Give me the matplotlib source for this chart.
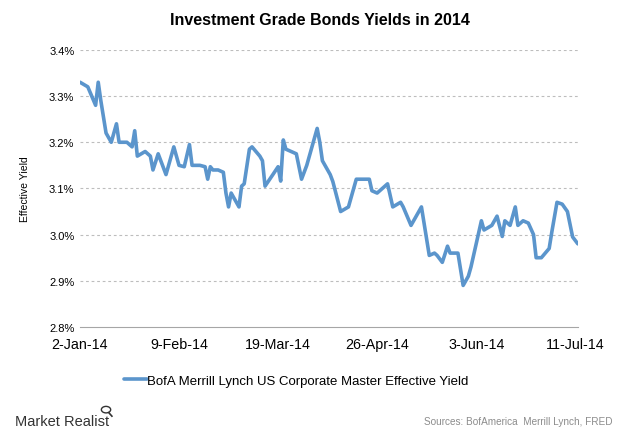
import matplotlib
matplotlib.use("Agg")
import matplotlib.pyplot as plt
import matplotlib.patches as mpatches
import matplotlib.lines as mlines
import pandas as pd

# effective yield (turning points)
dates = ["2014-01-02", "2014-01-05", "2014-01-08", "2014-01-09", "2014-01-10", "2014-01-12",
         "2014-01-14", "2014-01-16", "2014-01-17", "2014-01-20", "2014-01-22", "2014-01-23",
         "2014-01-24", "2014-01-27", "2014-01-29", "2014-01-30", "2014-02-01", "2014-02-04",
         "2014-02-07", "2014-02-09", "2014-02-11", "2014-02-13", "2014-02-14", "2014-02-17",
         "2014-02-19", "2014-02-20", "2014-02-21", "2014-02-22", "2014-02-24", "2014-02-26",
         "2014-02-27", "2014-02-28", "2014-03-01", "2014-03-03", "2014-03-04", "2014-03-05",
         "2014-03-06", "2014-03-08", "2014-03-09", "2014-03-12", "2014-03-13", "2014-03-14",
         "2014-03-17", "2014-03-19", "2014-03-20", "2014-03-21", "2014-03-22", "2014-03-26",
         "2014-03-28", "2014-03-30", "2014-04-01", "2014-04-03", "2014-04-04", "2014-04-05",
         "2014-04-08", "2014-04-09", "2014-04-12", "2014-04-15", "2014-04-16", "2014-04-18",
         "2014-04-23", "2014-04-24", "2014-04-26", "2014-04-30", "2014-05-02", "2014-05-05",
         "2014-05-06", "2014-05-09", "2014-05-13", "2014-05-16", "2014-05-18", "2014-05-19",
         "2014-05-21", "2014-05-23", "2014-05-24", "2014-05-27", "2014-05-29", "2014-05-31",
         "2014-06-01", "2014-06-05", "2014-06-06", "2014-06-09", "2014-06-11", "2014-06-13",
         "2014-06-14", "2014-06-16", "2014-06-18", "2014-06-19", "2014-06-21", "2014-06-23",
         "2014-06-25", "2014-06-26", "2014-06-28", "2014-07-01", "2014-07-02", "2014-07-04",
         "2014-07-06", "2014-07-08", "2014-07-10", "2014-07-12"]
yields = [3.33, 3.32, 3.28, 3.33, 3.29, 3.22,
          3.20, 3.24, 3.20, 3.20, 3.19, 3.225,
          3.17, 3.18, 3.17, 3.14, 3.175, 3.13,
          3.19, 3.15, 3.147, 3.195, 3.15, 3.15,
          3.147, 3.12, 3.147, 3.14, 3.14, 3.135,
          3.09, 3.06, 3.09, 3.07, 3.06, 3.105,
          3.11, 3.185, 3.19, 3.17, 3.16, 3.105,
          3.13, 3.147, 3.116, 3.205, 3.185, 3.175,
          3.12, 3.15, 3.19, 3.23, 3.20, 3.16,
          3.13, 3.115, 3.05, 3.06, 3.08, 3.12,
          3.12, 3.095, 3.09, 3.11, 3.06, 3.07,
          3.06, 3.02, 3.06, 2.955, 2.96, 2.955,
          2.94, 2.975, 2.96, 2.96, 2.89, 2.91,
          2.93, 3.03, 3.01, 3.02, 3.04, 2.996,
          3.03, 3.02, 3.06, 3.02, 3.03, 3.025,
          3.00, 2.95, 2.95, 2.97, 3.005, 3.07,
          3.066, 3.05, 2.995, 2.98]
tick_dates = ["2014-01-02", "2014-02-09", "2014-03-19", "2014-04-26", "2014-06-03", "2014-07-11"]
tick_labels = ["2-Jan-14", "9-Feb-14", "19-Mar-14", "26-Apr-14", "3-Jun-14", "11-Jul-14"]
y_ticks = [2.8, 2.9, 3.0, 3.1, 3.2, 3.3, 3.4]

plt.rcParams['font.family'] = ['Liberation Sans', 'DejaVu Sans']

fig = plt.figure(figsize=(6.2, 4.35), dpi=100)
ax = fig.add_axes([0.129, 0.246, 0.803, 0.637])

x = pd.to_datetime(dates)
line, = ax.plot(x, yields, color='#5b95cc', linewidth=2.6,
                solid_joinstyle='round', solid_capstyle='round',
                label='BofA Merrill Lynch US Corporate Master Effective Yield')

ax.set_ylim(2.8, 3.4)
ax.set_yticks(y_ticks)
ax.set_yticklabels(['%.1f%%' % v for v in y_ticks], fontsize=8)
ax.set_xlim(pd.Timestamp("2014-01-02"), pd.Timestamp("2014-07-12"))
ax.set_xticks(pd.to_datetime(tick_dates))
ax.set_xticklabels(tick_labels, fontsize=10.3)
ax.tick_params(length=0, pad=4)
ax.tick_params(axis='x', pad=7)

for v in y_ticks[1:]:
    ax.axhline(v, color='#bdbdbd', linewidth=0.8, linestyle=(0, (2.5, 2.5)), zorder=0)

for s in ['top', 'right', 'left']:
    ax.spines[s].set_visible(False)
ax.spines['bottom'].set_color('#a6a6a6')
ax.spines['bottom'].set_linewidth(0.8)

ax.set_ylabel('Effective Yield', fontsize=7.5, labelpad=14)

fig.text(0.516, 0.953, 'Investment Grade Bonds Yields in 2014', ha='center', va='center',
         fontsize=11.5, fontweight='bold')

fig.legend(handles=[line], loc='center', bbox_to_anchor=(0.478, 0.123), frameon=False,
           fontsize=9.5, handlelength=1.7, handletextpad=0.05)

# Market Realist logo text plus a small magnifier drawn as a shape
fig.text(0.024, 0.03, 'Market Realist', fontsize=10.5, color='#333333', va='center')
fig.patches.append(mpatches.Circle((0.171, 0.056), 0.0075, transform=fig.transFigure,
                                   fill=False, edgecolor='#333333', linewidth=1.0))
fig.lines.append(mlines.Line2D([0.1755, 0.1805], [0.049, 0.041], transform=fig.transFigure,
                               color='#333333', linewidth=1.2))
fig.text(0.988, 0.03, 'Sources: BofAmerica  Merrill Lynch, FRED', fontsize=7.2,
         color='#8c8c8c', ha='right', va='center')

fig.savefig('out.png', dpi=100, facecolor='white')
